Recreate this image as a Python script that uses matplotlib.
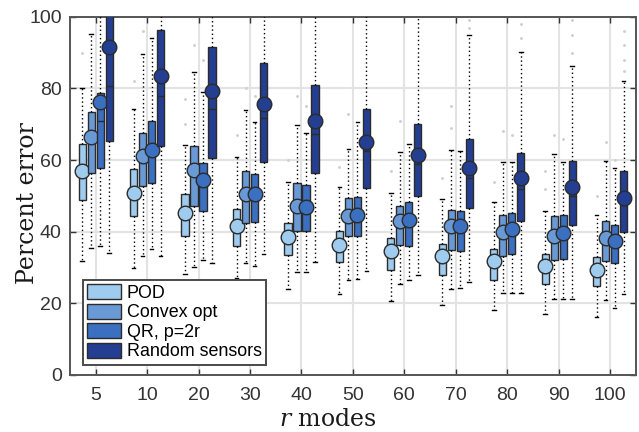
import matplotlib
matplotlib.use("Agg")
import matplotlib.pyplot as plt
from matplotlib.patches import Patch

plt.rcParams["font.family"] = ["Liberation Sans", "DejaVu Sans"]
plt.rcParams["mathtext.fontset"] = "custom"
plt.rcParams["mathtext.rm"] = "DejaVu Serif"
plt.rcParams["mathtext.it"] = "DejaVu Serif:italic"

# Number of retained modes r
modes = ["5", "10", "20", "30", "40", "50", "60", "70", "80", "90", "100"]
series_names = ["POD", "Convex opt", "QR, p=2r", "Random sensors"]

# POD reconstruction error statistics (%)
pod_q1 = [48.9, 44.3, 38.8, 36.0, 33.6, 31.5, 29.4, 28.0, 26.4, 25.3, 24.8]
pod_q3 = [64.4, 57.5, 50.5, 46.3, 42.4, 40.1, 38.3, 36.6, 35.2, 33.8, 33.0]
pod_med = [56.2, 50.0, 44.3, 40.9, 37.8, 35.5, 33.9, 32.4, 31.0, 29.5, 28.5]
pod_mean = [57.0, 50.8, 45.1, 41.7, 38.6, 36.3, 34.7, 33.2, 31.8, 30.3, 29.3]
pod_lo = [31.9, 29.9, 28.3, 27.0, 24.1, 22.5, 20.6, 19.6, 18.1, 17.0, 16.3]
pod_hi = [80.2, 74.3, 64.2, 61.0, 53.9, 52.5, 50.8, 49.1, 48.4, 45.9, 44.7]
pod_out = [[90], [82], [70, 77], [67], [60], [58], [57], [55], [54], [52, 57], [50]]

# Convex optimization sensor placement
cvx_q1 = [56.5, 52.8, 47.1, 42.4, 40.3, 38.7, 36.3, 34.9, 33.2, 32.2, 31.7]
cvx_q3 = [73.4, 67.5, 63.8, 57.0, 53.6, 49.3, 47.1, 46.1, 44.7, 44.3, 43.0]
cvx_med = [65.7, 60.4, 56.5, 49.7, 46.3, 43.6, 42.1, 40.9, 39.2, 37.9, 37.4]
cvx_mean = [66.5, 61.2, 57.3, 50.5, 47.1, 44.4, 42.9, 41.7, 40.0, 38.7, 38.2]
cvx_lo = [35.5, 33.2, 30.1, 31.3, 28.7, 26.4, 25.5, 24.1, 23.0, 21.1, 21.0]
cvx_hi = [95.3, 89.5, 84.6, 73.9, 69.8, 63.0, 62.4, 62.8, 59.5, 61.6, 59.8]
cvx_out = [[], [96], [92], [80], [78], [73], [71], [75, 69], [68], [67], [65]]

# QR pivoting with p = 2r sensors
qr_q1 = [57.9, 53.7, 45.9, 42.6, 40.3, 38.9, 35.9, 34.7, 33.8, 32.4, 31.2]
qr_q3 = [78.6, 70.9, 59.3, 56.2, 53.1, 49.8, 48.4, 45.9, 45.2, 44.7, 42.0]
qr_med = [70.8, 62.0, 53.6, 49.7, 46.2, 44.0, 42.6, 40.9, 40.0, 38.9, 36.6]
qr_mean = [76.2, 62.8, 54.4, 50.5, 47.0, 44.8, 43.4, 41.7, 40.8, 39.7, 37.4]
qr_lo = [35.9, 35.2, 32.0, 30.4, 28.7, 26.9, 26.4, 24.3, 23.0, 21.3, 18.6]
qr_hi = [108.0, 94.1, 79.0, 70.5, 67.5, 70.5, 64.6, 62.6, 59.6, 59.6, 57.9]
qr_out = [[], [], [88], [78], [75], [], [], [], [67], [66], [60]]

# Randomly placed sensors
rnd_q1 = [65.4, 63.8, 60.7, 59.5, 56.4, 52.2, 49.9, 46.5, 43.1, 41.9, 39.8]
rnd_q3 = [104.0, 96.4, 91.6, 87.0, 81.1, 74.3, 70.2, 65.8, 62.1, 59.8, 57.0]
rnd_med = [80.7, 77.9, 74.2, 71.8, 67.2, 62.5, 58.9, 55.1, 51.9, 50.0, 47.5]
rnd_mean = [91.7, 83.6, 79.3, 75.7, 70.8, 65.1, 61.5, 57.9, 54.9, 52.6, 49.5]
rnd_lo = [34.0, 33.2, 31.3, 33.8, 31.5, 29.0, 28.0, 25.9, 23.0, 21.3, 22.7]
rnd_hi = [115.0, 115.0, 115.0, 115.0, 115.0, 115.0, 115.0, 94.9, 90.1, 86.2, 82.0]
rnd_out = [[], [], [], [], [], [], [], [99, 97], [94, 98], [90, 95, 99], [85, 88, 92, 96]]

colors = ["#9fcbee", "#6a9ad6", "#3b6fbf", "#243e92"]
edge = "#2b2b2b"

groups = [
    (pod_q1, pod_q3, pod_med, pod_mean, pod_lo, pod_hi, pod_out),
    (cvx_q1, cvx_q3, cvx_med, cvx_mean, cvx_lo, cvx_hi, cvx_out),
    (qr_q1, qr_q3, qr_med, qr_mean, qr_lo, qr_hi, qr_out),
    (rnd_q1, rnd_q3, rnd_med, rnd_mean, rnd_lo, rnd_hi, rnd_out),
]

fig = plt.figure(figsize=(6.39, 4.32), dpi=100)
ax = fig.add_axes([0.1095, 0.132, 0.8855, 0.829])

spacing = 0.175
width = 0.14
base = list(range(1, len(modes) + 1))

for k, (q1, q3, med, mean, lo, hi, out) in enumerate(groups):
    stats = []
    for i in range(len(modes)):
        stats.append(dict(q1=q1[i], q3=q3[i], med=med[i], mean=mean[i],
                          whislo=lo[i], whishi=hi[i], fliers=out[i]))
    pos = [b + (k - 1.5) * spacing for b in base]
    ax.bxp(stats, positions=pos, widths=width, patch_artist=True,
           showmeans=True, meanline=False, manage_ticks=False,
           capwidths=0.07,
           boxprops=dict(facecolor=colors[k], edgecolor=edge, linewidth=1.0),
           medianprops=dict(color=edge, linewidth=1.0),
           whiskerprops=dict(color="black", linewidth=1.0, linestyle=(0, (1, 2))),
           capprops=dict(color="black", linewidth=1.0),
           meanprops=dict(marker="o", markersize=10.5, markerfacecolor=colors[k],
                          markeredgecolor=edge, markeredgewidth=1.0),
           flierprops=dict(marker=".", markersize=2.2, markerfacecolor="#d0d0d0",
                           markeredgecolor="#d0d0d0", linestyle="none"),
           zorder=3 + k)

ax.set_xlim(0.5, 11.5)
ax.set_ylim(0, 100)
ax.set_xticks(base)
ax.set_xticklabels(modes)
ax.set_yticks([0, 20, 40, 60, 80, 100])
ax.grid(True, color="#e3e3e3", linewidth=1.5, zorder=0)
ax.set_axisbelow(True)
ax.tick_params(direction="in", length=4, width=1.0, top=True, right=True,
               labelsize=14, colors="#333333")
ax.tick_params(axis="x", pad=8.5)
ax.tick_params(axis="y", pad=6)
for s in ax.spines.values():
    s.set_color("#555555")
    s.set_linewidth(1.4)

ax.set_ylabel("Percent error", fontsize=17, family="DejaVu Serif", color="#1a1a1a")
ax.yaxis.set_label_coords(-0.0555, 0.48)
ax.set_xlabel(r"$r$ modes", fontsize=17, family="DejaVu Serif", color="#1a1a1a")
ax.xaxis.set_label_coords(0.456, -0.092)

handles = [Patch(facecolor=c, edgecolor=edge, linewidth=1.0) for c in colors]
leg = ax.legend(handles, series_names, loc="lower left",
                bbox_to_anchor=(0.0224, 0.028), borderaxespad=0,
                fontsize=12.9, handlelength=1.9, handleheight=0.92,
                handletextpad=0.3, labelspacing=0.1, borderpad=0.25,
                fancybox=False, framealpha=1)
leg.get_frame().set_edgecolor("#4a4a4a")
leg.get_frame().set_linewidth(1.4)
leg.set_zorder(10)

fig.savefig("out.png", dpi=100)
